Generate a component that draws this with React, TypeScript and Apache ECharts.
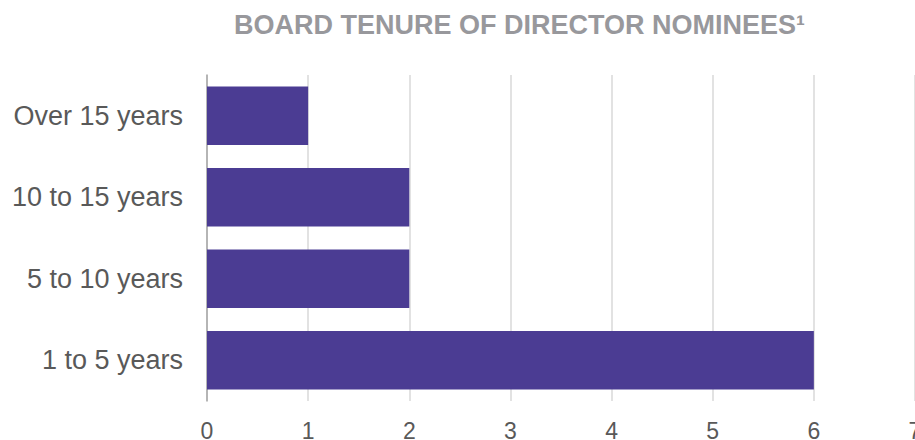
import React, { useEffect, useRef } from "react";
import * as echarts from "echarts";

const categories = ["Over 15 years", "10 to 15 years", "5 to 10 years", "1 to 5 years"];
const values = [1, 2, 2, 6];
const titleText = "BOARD TENURE OF DIRECTOR NOMINEES¹";

export default function App() {
  const ref = useRef<HTMLDivElement>(null);
  useEffect(() => {
    if (!ref.current) return;
    const chart = echarts.init(ref.current, undefined, { renderer: "svg" });
    chart.setOption({
      animation: false,
      backgroundColor: "#ffffff",
      title: {
        text: titleText,
        left: 229,
        top: 6,
        textStyle: {
          fontFamily: "Liberation Sans, Arial, sans-serif",
          fontSize: 27,
          fontWeight: "bold",
          color: "#98989C",
        },
      },
      grid: {
        left: 207,
        right: 0,
        top: 75,
        bottom: 39,
        containLabel: false,
        outerBoundsMode: "none",
      },
      xAxis: {
        type: "value",
        min: 0,
        max: 7,
        interval: 1,
        axisLine: { show: false },
        axisTick: { show: false },
        splitLine: { show: true, lineStyle: { color: "#D9D9D9", width: 1.5 } },
        axisLabel: {
          margin: 18,
          fontFamily: "Liberation Sans, Arial, sans-serif",
          fontSize: 23,
          color: "#595959",
        },
      },
      yAxis: {
        type: "category",
        data: categories,
        inverse: true,
        axisLine: { show: true, lineStyle: { color: "#A6A6A6", width: 1.5 } },
        axisTick: { show: false },
        axisLabel: {
          margin: 24,
          fontFamily: "Liberation Sans, Arial, sans-serif",
          fontSize: 27,
          color: "#595959",
        },
      },
      series: [
        {
          type: "bar",
          data: values,
          barCategoryGap: "28%",
          itemStyle: { color: "#4B3C93" },
        },
      ],
    });
    return () => chart.dispose();
  }, []);
  return (
    <div
      ref={ref}
      style={{ position: "fixed", left: 0, top: 0, width: 915, height: 440 }}
    />
  );
}
